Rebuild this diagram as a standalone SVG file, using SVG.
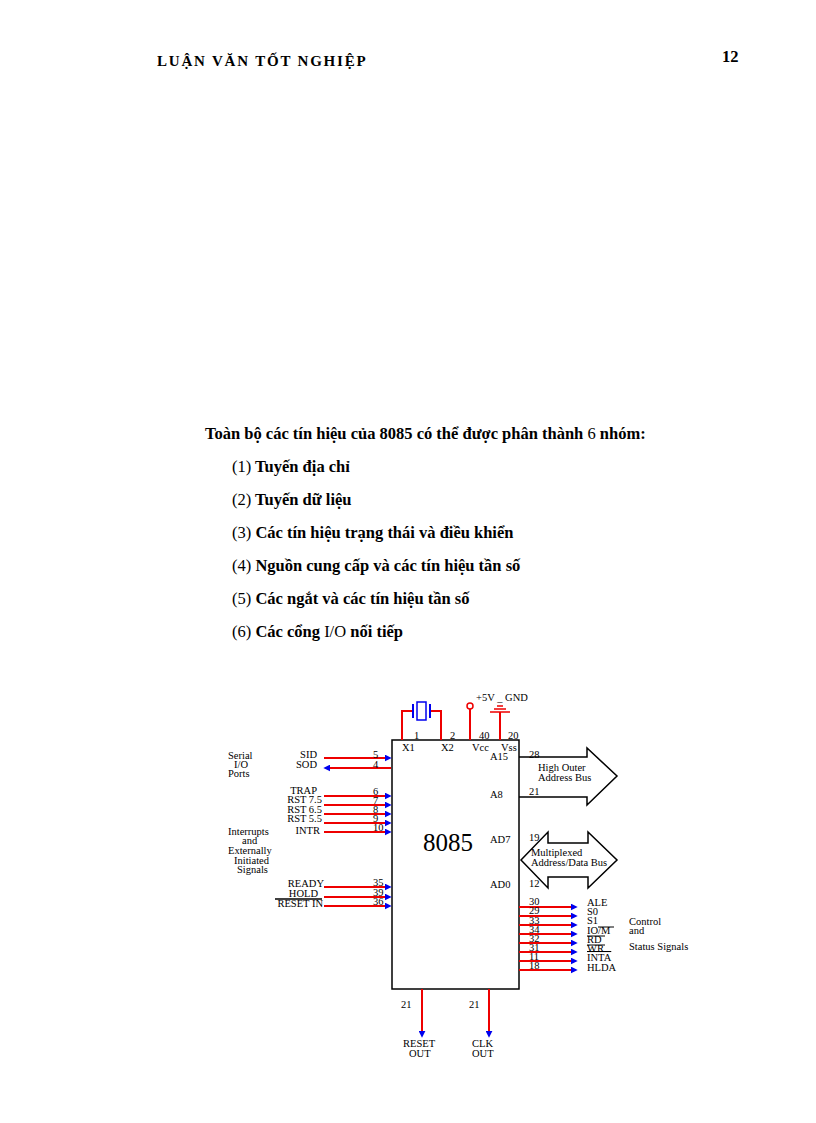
<svg xmlns="http://www.w3.org/2000/svg" width="816" height="1123" viewBox="0 0 816 1123" font-family="'Liberation Serif','Times New Roman',serif">
<style>
text{font-family:"Liberation Serif","Times New Roman",serif;fill:#000}
.b{font-weight:bold;font-size:16.5px}
.s{font-size:10.5px}
.r{stroke:#e00;stroke-width:2;fill:none}
.k{stroke:#000;stroke-width:1.5;fill:none}
</style>
<defs><marker id="a" viewBox="0 0 10 10" refX="9" refY="5" markerWidth="7" markerHeight="7" markerUnits="userSpaceOnUse" orient="auto"><path d="M0,0L10,5L0,10z" fill="#00e"/></marker></defs>
<rect width="816" height="1123" fill="#fff"/>
<text x="157" y="66" class="b" style="font-size:15px;letter-spacing:1.8px">LUẬN VĂN TỐT NGHIỆP</text>
<text x="722" y="62" class="b">12</text>
<text x="205" y="439" class="b">Toàn bộ các tín hiệu của 8085 có thể được phân thành <tspan font-weight="normal">6</tspan> nhóm:</text>
<text x="232" y="472" class="b"><tspan font-weight="normal">(1)</tspan> Tuyến địa chỉ</text>
<text x="232" y="505" class="b"><tspan font-weight="normal">(2)</tspan> Tuyến dữ liệu</text>
<text x="232" y="538" class="b"><tspan font-weight="normal">(3)</tspan> Các tín hiệu trạng thái và điều khiển</text>
<text x="232" y="571" class="b"><tspan font-weight="normal">(4)</tspan> Nguồn cung cấp và các tín hiệu tần số</text>
<text x="232" y="604" class="b"><tspan font-weight="normal">(5)</tspan> Các ngắt và các tín hiệu tần số</text>
<text x="232" y="637" class="b"><tspan font-weight="normal">(6)</tspan> Các cổng <tspan font-weight="normal">I/O</tspan> nối tiếp</text>

<g id="chip"><rect x="392" y="740" width="127" height="249" class="k"/>
<text x="423" y="851" style="font-size:25px">8085</text>
<g class="s"><text x="402" y="751">X1</text><text x="441" y="751">X2</text><text x="472" y="751">Vcc</text><text x="501" y="751">Vss</text>
<text x="490" y="760">A15</text><text x="490" y="798">A8</text><text x="490" y="843">AD7</text><text x="490" y="888">AD0</text></g></g>

<g id="connectors">
<g class="r">
<path d="M324,758H389M328,768H391M324,796H389M324,805H389M324,814H389M324,823H389M324,832H389M324,887H389M324,897H389M324,906H389"/>
<path d="M519,907H573M519,916H573M519,925H573M519,934H573M519,943H573M519,952H573M519,961H573M519,970H573"/>
<path d="M422,989V1033M489,989V1033"/>
<path d="M402,740V711H412M441,740V711H431M470,740V709M500,740V712"/>
</g>
<g marker-end="url(#a)" stroke="none" fill="none">
<path d="M380,758H391"/><path d="M380,796H391"/><path d="M380,805H391"/><path d="M380,814H391"/><path d="M380,823H391"/><path d="M380,832H391"/><path d="M380,887H391"/><path d="M380,897H391"/><path d="M380,906H391"/>
<path d="M340,768H324"/>
<path d="M565,907H577"/><path d="M565,916H577"/><path d="M565,925H577"/><path d="M565,934H577"/><path d="M565,943H577"/><path d="M565,952H577"/><path d="M565,961H577"/><path d="M565,970H577"/>
<path d="M422,1025V1037"/><path d="M489,1025V1037"/>
</g>
<circle cx="470" cy="706" r="3" fill="#fff" stroke="#e00" stroke-width="1.5"/>
<path d="M490,712H510M494,709H506M497,706H503" stroke="#e00" stroke-width="1.5"/>
<path d="M413,704V718M430,704V718" stroke="#00e" stroke-width="2"/>
<rect x="417" y="702" width="9" height="18" fill="none" stroke="#00e" stroke-width="1.5"/>
<path d="M519,757H587V748L617,776L587,805V797H519" class="k"/>
<path d="M521,860L548,832V843H588V832L617,860L588,888V877H548V888Z" class="k"/>
<path d="M275,899H322" stroke="#000" stroke-width="1.5"/>
<path d="M598,927H614M587,936H605M587,945H605" stroke="#000" stroke-width="1"/>
</g>
<g class="s">
<text x="228" y="759">Serial</text><text x="234" y="768">I/O</text><text x="228" y="777">Ports</text>
<text x="228" y="835">Interrupts</text><text x="242" y="844">and</text><text x="228" y="854">Externally</text><text x="234" y="864">Initiated</text><text x="237" y="873">Signals</text>
<g text-anchor="end"><text x="317" y="758">SID</text><text x="317" y="768">SOD</text><text x="317" y="794">TRAP</text><text x="322" y="803">RST 7.5</text><text x="322" y="813">RST 6.5</text><text x="322" y="822">RST 5.5</text><text x="320" y="834">INTR</text><text x="324" y="887">READY</text><text x="318" y="897">HOLD</text><text x="323" y="907">RESET IN</text></g>
<text x="373" y="758">5</text><text x="373" y="768">4</text><text x="373" y="795">6</text><text x="373" y="804">7</text><text x="373" y="813">8</text><text x="373" y="822">9</text><text x="373" y="831">10</text><text x="373" y="886">35</text><text x="373" y="896">39</text><text x="373" y="905">36</text>
<text x="414" y="739">1</text><text x="450" y="739">2</text><text x="479" y="739">40</text><text x="508" y="739">20</text>
<text x="476" y="701">+5V _ GND</text>
<text x="529" y="758">28</text><text x="529" y="795">21</text><text x="529" y="841">19</text><text x="529" y="887">12</text>
<text x="538" y="771">High Outer</text><text x="538" y="781">Address Bus</text>
<text x="531" y="856">Multiplexed</text><text x="531" y="866">Address/Data Bus</text>
<text x="529" y="905">30</text><text x="529" y="914">29</text><text x="529" y="924">33</text><text x="529" y="933">34</text><text x="529" y="942">32</text><text x="529" y="951">31</text><text x="529" y="960">11</text><text x="529" y="969">18</text>
<text x="587" y="906">ALE</text><text x="587" y="915">S0</text><text x="587" y="924">S1</text><text x="587" y="934">IO/M</text><text x="587" y="943">RD</text><text x="587" y="952">WR</text><text x="587" y="961" text-decoration="overline">INTA</text><text x="587" y="971">HLDA</text>
<text x="629" y="925">Control</text><text x="629" y="934">and</text><text x="629" y="950">Status Signals</text>
<text x="401" y="1008">21</text><text x="469" y="1008">21</text>
<text x="403" y="1047">RESET</text><text x="409" y="1057">OUT</text><text x="472" y="1047">CLK</text><text x="472" y="1057">OUT</text>
</g>
</svg>
